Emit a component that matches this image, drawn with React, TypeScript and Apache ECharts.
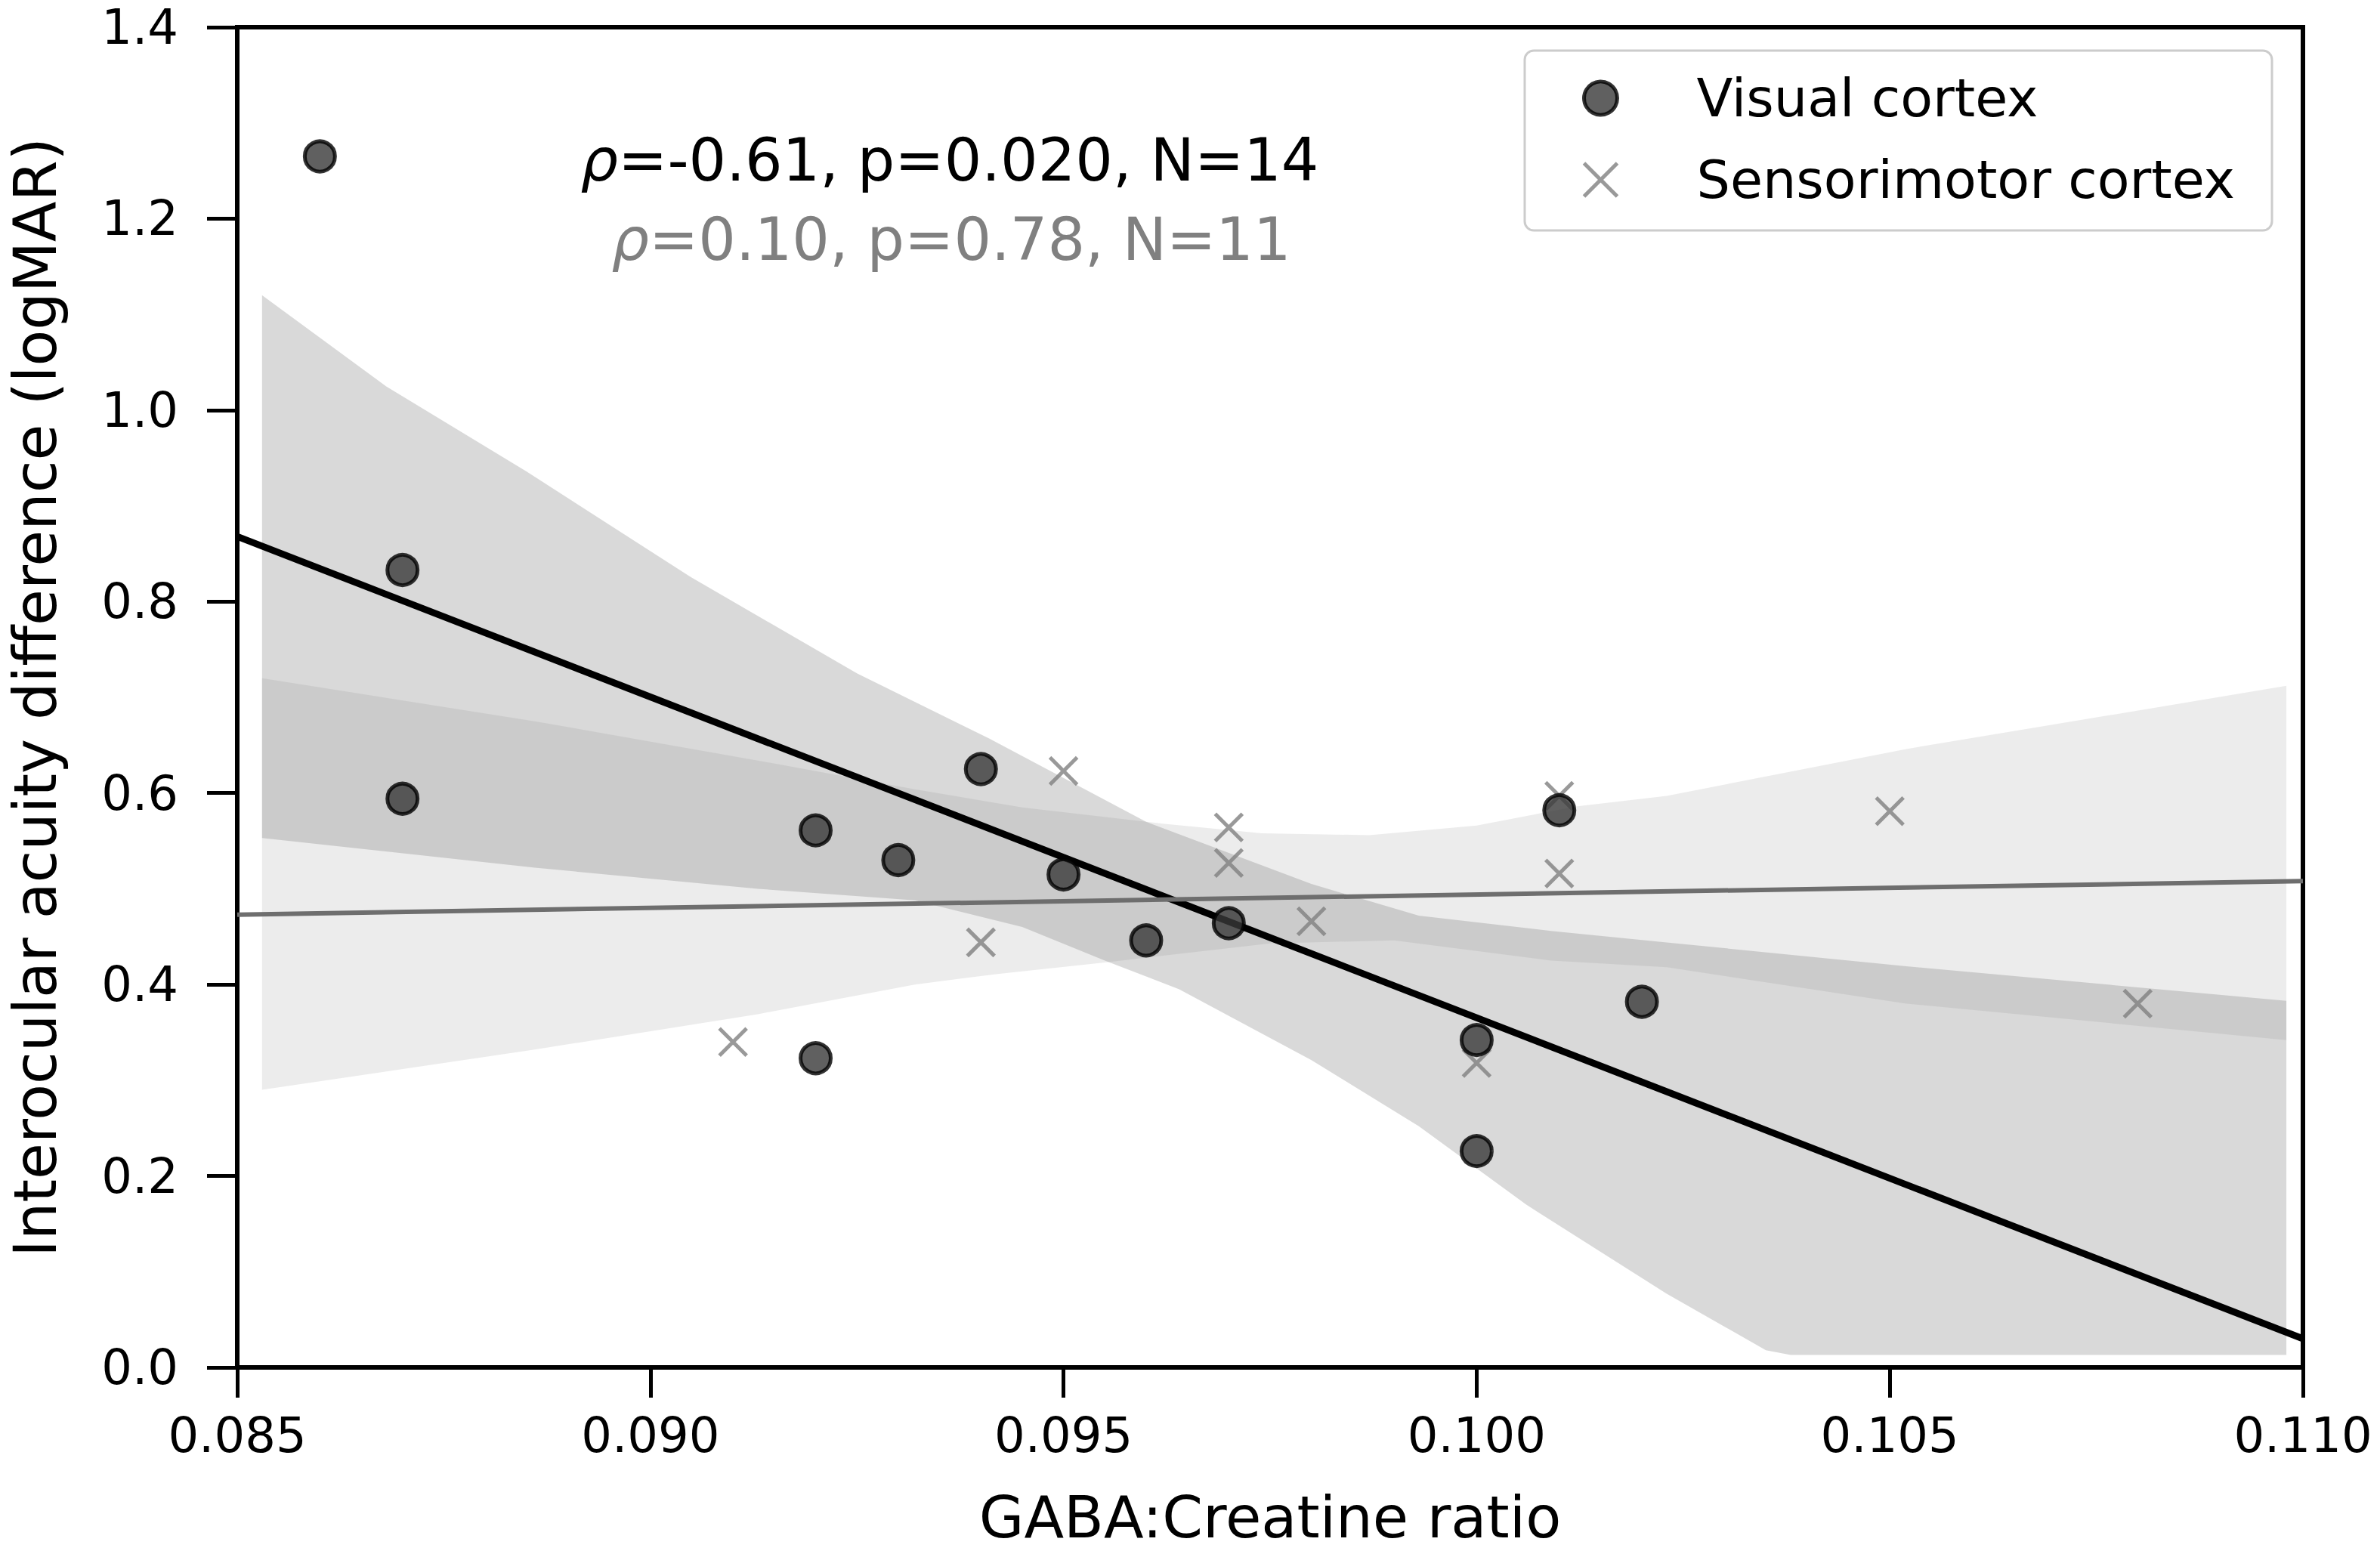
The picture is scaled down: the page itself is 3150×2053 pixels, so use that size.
import React, { useEffect, useRef } from 'react';
import * as echarts from 'echarts';

// ---- data ----
const xMin = 0.085;
const xMax = 0.110;
const xStep = 0.005;
const yMin = 0;
const yMax = 1.4;
const yStep = 0.2;

const visualPoints: [number, number][] = [
  [0.086, 1.265],
  [0.087, 0.833],
  [0.087, 0.594],
  [0.092, 0.561],
  [0.093, 0.530],
  [0.092, 0.323],
  [0.094, 0.625],
  [0.095, 0.515],
  [0.096, 0.446],
  [0.097, 0.464],
  [0.100, 0.342],
  [0.100, 0.226],
  [0.101, 0.582],
  [0.102, 0.382],
];

const sensoriPoints: [number, number][] = [
  [0.091, 0.340],
  [0.094, 0.444],
  [0.095, 0.623],
  [0.097, 0.564],
  [0.097, 0.527],
  [0.098, 0.466],
  [0.100, 0.318],
  [0.101, 0.597],
  [0.101, 0.516],
  [0.105, 0.581],
  [0.108, 0.380],
];

const visualFit: [number, number][] = [
  [0.085, 0.868],
  [0.110, 0.030],
];
const sensoriFit: [number, number][] = [
  [0.085, 0.473],
  [0.110, 0.508],
];

const visualBandUpper: [number, number][] = [
  [0.0853, 1.12], [0.0868, 1.025], [0.0885, 0.936], [0.0905, 0.825],
  [0.0925, 0.725], [0.0941, 0.657], [0.0960, 0.570], [0.0980, 0.505],
  [0.0993, 0.472], [0.1009, 0.456], [0.1023, 0.444], [0.1052, 0.419],
  [0.1098, 0.383],
];
const visualBandLower: [number, number][] = [
  [0.0853, 0.553], [0.0886, 0.522], [0.0913, 0.500], [0.0932, 0.488],
  [0.0945, 0.460], [0.0955, 0.425], [0.0964, 0.395], [0.0980, 0.321],
  [0.0993, 0.252], [0.1006, 0.170], [0.1023, 0.077], [0.1035, 0.018],
  [0.1038, 0.013], [0.1098, 0.013],
];
const sensoriBandUpper: [number, number][] = [
  [0.0853, 0.720], [0.0886, 0.675], [0.0913, 0.634], [0.0932, 0.604],
  [0.0945, 0.585], [0.0962, 0.568], [0.0974, 0.558], [0.0987, 0.556],
  [0.1000, 0.566], [0.1012, 0.586], [0.1023, 0.597], [0.1052, 0.646],
  [0.1098, 0.712],
];
const sensoriBandLower: [number, number][] = [
  [0.0853, 0.290], [0.0886, 0.332], [0.0913, 0.369], [0.0932, 0.400],
  [0.0942, 0.411], [0.0955, 0.423], [0.0975, 0.443], [0.0990, 0.446],
  [0.1009, 0.425], [0.1023, 0.418], [0.1052, 0.380], [0.1098, 0.342],
];

const seriesNames = ['Visual cortex', 'Sensorimotor cortex'];
const statLines = [
  { rho: '-0.61', p: '0.020', n: '14' },
  { rho: '0.10', p: '0.78', n: '11' },
];

const FONT = 'DejaVu Sans';
const X_MARK = 'path://M0 0L10 10M10 0L0 10';

function bandSeries(upper: [number, number][], lower: [number, number][], fill: string, z: number) {
  return {
    type: 'custom',
    silent: true,
    z,
    data: [upper[0]],
    encode: { x: 0, y: 1 },
    renderItem: (_params: any, api: any) => {
      const pts = upper.concat(lower.slice().reverse()).map((p) => api.coord(p));
      return { type: 'polygon', shape: { points: pts }, style: { fill } };
    },
  };
}

export default function App() {
  const ref = useRef<HTMLDivElement>(null);

  useEffect(() => {
    if (!ref.current) return;
    const chart = echarts.init(ref.current, null, { renderer: 'svg' });

    const statText = (s: { rho: string; p: string; n: string }) =>
      `{r|ρ}=${s.rho}, p=${s.p}, N=${s.n}`;

    const option: any = {
      animation: false,
      backgroundColor: '#ffffff',
      textStyle: { fontFamily: FONT },
      grid: {
        left: 305,
        right: 102,
        top: 36,
        bottom: 243,
        show: true,
        borderColor: '#000',
        borderWidth: 6,
        backgroundColor: 'transparent',
      },
      xAxis: {
        type: 'value',
        min: xMin,
        max: xMax,
        interval: xStep,
        name: 'GABA:Creatine ratio',
        nameLocation: 'middle',
        nameGap: 160,
        nameTextStyle: { fontSize: 77, color: '#000', fontFamily: FONT },
        axisLine: { show: true, lineStyle: { color: '#000', width: 6 } },
        axisTick: { show: true, length: 40, lineStyle: { color: '#000', width: 5 } },
        axisLabel: {
          fontSize: 64,
          color: '#000',
          fontFamily: FONT,
          margin: 58,
          formatter: (v: number) => v.toFixed(3),
        },
        splitLine: { show: false },
      },
      yAxis: {
        type: 'value',
        min: yMin,
        max: yMax,
        interval: yStep,
        name: 'Interocular acuity difference (logMAR)',
        nameLocation: 'middle',
        nameGap: 228,
        nameTextStyle: { fontSize: 78, color: '#000', fontFamily: FONT },
        axisLine: { show: true, lineStyle: { color: '#000', width: 6 } },
        axisTick: { show: true, length: 40, lineStyle: { color: '#000', width: 5 } },
        axisLabel: {
          fontSize: 64,
          color: '#000',
          fontFamily: FONT,
          margin: 78,
          formatter: (v: number) => v.toFixed(1),
        },
        splitLine: { show: false },
      },
      legend: {
        orient: 'vertical',
        left: 2018,
        top: 67,
        padding: [28, 49, 32, 76],
        itemGap: 38,
        itemWidth: 44,
        itemHeight: 44,
        borderColor: '#cccccc',
        borderWidth: 3,
        borderRadius: 12,
        backgroundColor: 'rgba(255,255,255,0.85)',
        textStyle: { fontSize: 70, color: '#000', fontFamily: FONT, padding: [0, 0, 0, 100] },
        data: [
          {
            name: seriesNames[0],
            icon: 'circle',
            itemStyle: { color: '#383838', borderColor: '#000', borderWidth: 5 },
          },
          {
            name: seriesNames[1],
            icon: X_MARK,
            itemStyle: { color: 'none', borderColor: '#808080', borderWidth: 5 },
          },
        ],
      },
      graphic: [
        {
          type: 'text',
          x: 1257,
          y: 212,
          z: 10,
          style: {
            text: statText(statLines[0]),
            fill: '#000',
            fontSize: 78,
            fontFamily: FONT,
            align: 'center',
            verticalAlign: 'middle',
            rich: { r: { fontStyle: 'italic', fontSize: 78, fontFamily: FONT, fill: '#000' } },
          },
        },
        {
          type: 'text',
          x: 1259,
          y: 317,
          z: 10,
          style: {
            text: statText(statLines[1]),
            fill: '#808080',
            fontSize: 78,
            fontFamily: FONT,
            align: 'center',
            verticalAlign: 'middle',
            rich: { r: { fontStyle: 'italic', fontSize: 78, fontFamily: FONT, fill: '#808080' } },
          },
        },
      ],
      series: [
        bandSeries(visualBandUpper, visualBandLower, 'rgba(0,0,0,0.15)', 1),
        bandSeries(sensoriBandUpper, sensoriBandLower, 'rgba(128,128,128,0.15)', 1),
        {
          type: 'line',
          data: visualFit,
          showSymbol: false,
          silent: true,
          z: 2,
          lineStyle: { color: '#000', width: 9 },
        },
        {
          type: 'line',
          data: sensoriFit,
          showSymbol: false,
          silent: true,
          z: 2,
          lineStyle: { color: '#6e6e6e', width: 6 },
        },
        {
          name: seriesNames[1],
          type: 'scatter',
          data: sensoriPoints,
          symbol: X_MARK,
          symbolSize: 36,
          z: 3,
          itemStyle: { color: 'none', borderColor: '#808080', borderWidth: 5 },
        },
        {
          name: seriesNames[0],
          type: 'scatter',
          data: visualPoints,
          symbol: 'circle',
          symbolSize: 40,
          z: 4,
          itemStyle: { color: '#383838', borderColor: '#000', borderWidth: 5 },
        },
      ],
    };

    chart.setOption(option);
    return () => chart.dispose();
  }, []);

  return (
    <div
      ref={ref}
      style={{ position: 'fixed', left: 0, top: 0, width: 3150, height: 2053, background: '#fff' }}
    />
  );
}
